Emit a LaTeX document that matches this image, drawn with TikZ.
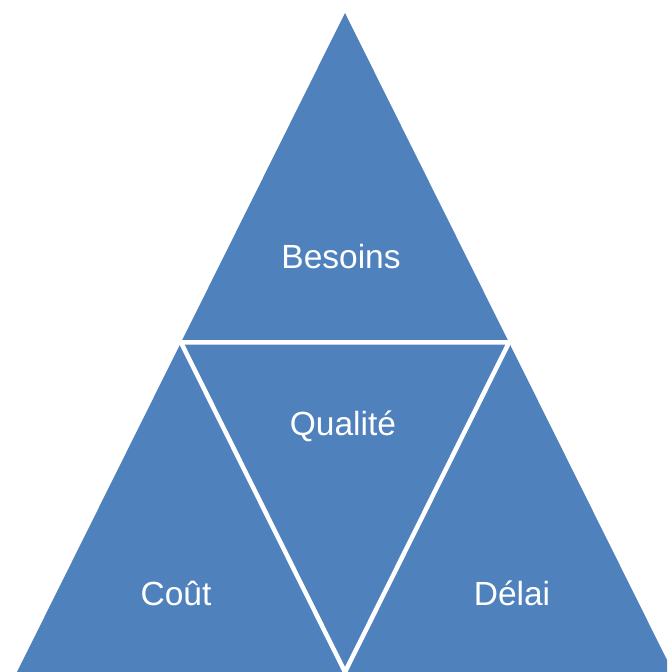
\documentclass[tikz,border=0pt]{standalone}
\usepackage{fontspec}
\setmainfont{Liberation Sans}
\definecolor{pyrblue}{HTML}{4F81BD}
\tikzset{
  lbl/.style={text=white, anchor=base, font=\fontsize{33.5}{40}\selectfont, inner sep=0pt},
  gap/.style={draw=white, line width=4.5pt, line join=miter}
}
\begin{document}
\begin{tikzpicture}[x=1pt,y=1pt]
        \useasboundingbox (0,0) rectangle (667,672);
        \clip (0,0) rectangle (667,672);
        \coordinate (T) at (345,659);
        \coordinate (L) at (17,0);
        \coordinate (R) at (673,0);
        \coordinate (ML) at (181,329.5);
        \coordinate (MR) at (509,329.5);
        \coordinate (MB) at (345,0);

        \fill[pyrblue] (T) -- (L) -- (R) -- cycle;
        \draw[gap] (ML) -- (MR) -- (MB) -- cycle;

        \node[lbl] (besoins) at (341,403) {Besoins};
        \node[lbl] (qualite) at (343,236) {Qualité};
        \node[lbl] (cout) at (176,66) {Coût};
        \node[lbl] (delai) at (512,66) {Délai};
\end{tikzpicture}
\end{document}
